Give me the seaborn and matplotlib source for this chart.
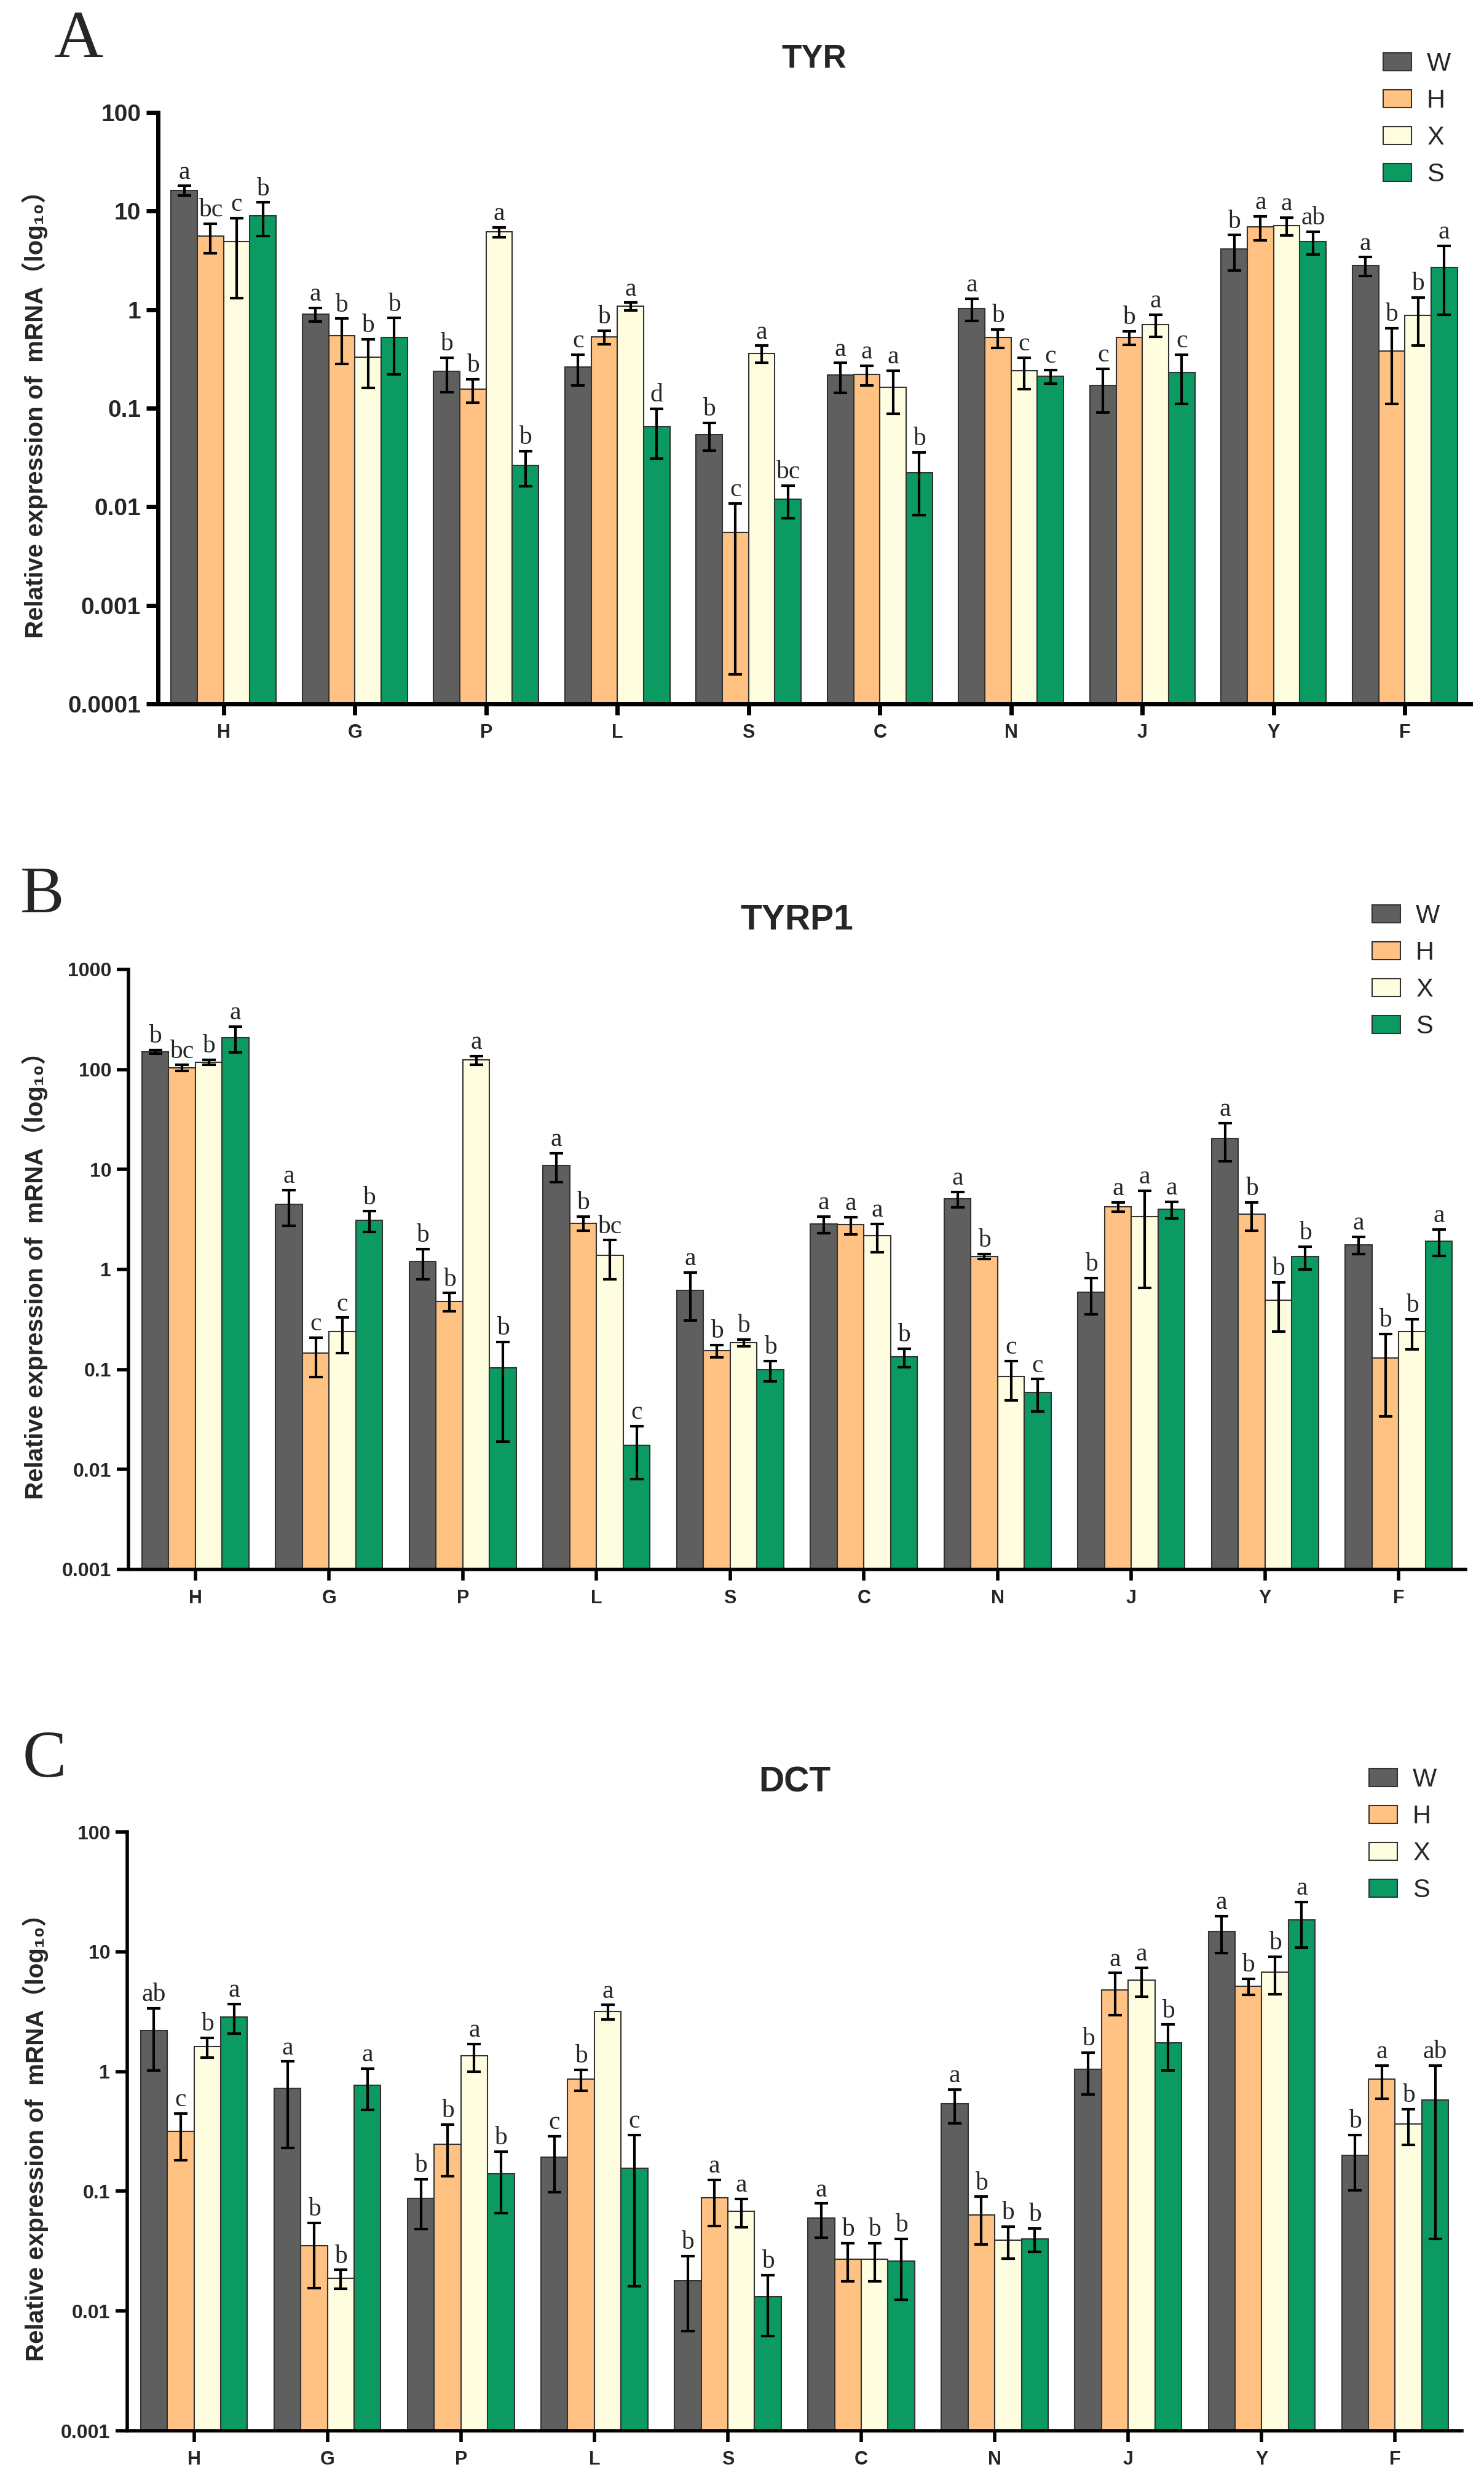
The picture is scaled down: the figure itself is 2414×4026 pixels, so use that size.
import numpy as np
import pandas as pd
import matplotlib
matplotlib.use("Agg")
import matplotlib.pyplot as plt
import seaborn as sns
from matplotlib.ticker import NullLocator

# ---------------------------- DATA ----------------------------
tissues = ["H", "G", "P", "L", "S", "C", "N", "J", "Y", "F"]
groups = ["W", "H", "X", "S"]
colors = ["#5f5f5f", "#ffc282", "#fffde0", "#0b9a61"]

# TYR  (mean, sd, significance letters)
tyr_W = [16.2, 0.90, 0.236, 0.26, 0.054, 0.216, 1.03, 0.17, 4.1, 2.8]
tyr_W_sd = [1.8, 0.145, 0.09, 0.09, 0.017, 0.072, 0.26, 0.08, 1.6, 0.6]
tyr_H = [5.6, 0.545, 0.155, 0.53, 0.0055, 0.22, 0.52, 0.52, 6.95, 0.38]
tyr_H_sd = [1.85, 0.265, 0.042, 0.085, 0.0053, 0.05, 0.11, 0.08, 1.9, 0.27]
tyr_X = [4.9, 0.33, 6.15, 1.08, 0.36, 0.164, 0.24, 0.71, 7.1, 0.88]
tyr_X_sd = [3.6, 0.17, 0.7, 0.095, 0.07, 0.076, 0.085, 0.18, 1.45, 0.45]
tyr_S = [8.9, 0.52, 0.0264, 0.065, 0.012, 0.022, 0.21, 0.23, 4.9, 2.67]
tyr_S_sd = [3.3, 0.3, 0.0102, 0.034, 0.0044, 0.0138, 0.033, 0.12, 1.3, 1.78]
tyr_let_W = ["a", "a", "b", "c", "b", "a", "a", "c", "b", "a"]
tyr_let_H = ["bc", "b", "b", "b", "c", "a", "b", "b", "a", "b"]
tyr_let_X = ["c", "b", "a", "a", "a", "a", "c", "a", "a", "b"]
tyr_let_S = ["b", "b", "b", "d", "bc", "b", "c", "c", "ab", "a"]

# TYRP1
tyrp1_W = [150, 4.5, 1.2, 11, 0.62, 2.84, 5.06, 0.59, 20.5, 1.77]
tyrp1_W_sd = [6, 1.75, 0.4, 3.5, 0.31, 0.55, 0.9, 0.235, 8.5, 0.35]
tyrp1_H = [104, 0.146, 0.48, 2.9, 0.154, 2.8, 1.35, 4.25, 3.57, 0.13]
tyrp1_H_sd = [7, 0.062, 0.1, 0.47, 0.021, 0.55, 0.07, 0.45, 1.12, 0.096]
tyrp1_X = [118, 0.238, 124, 1.38, 0.185, 2.17, 0.085, 3.4, 0.49, 0.238]
tyrp1_X_sd = [6.5, 0.092, 12, 0.58, 0.015, 0.68, 0.036, 2.75, 0.25, 0.08]
tyrp1_S = [208, 3.1, 0.104, 0.0175, 0.099, 0.134, 0.059, 3.98, 1.35, 1.93]
tyrp1_S_sd = [61, 0.72, 0.085, 0.0095, 0.023, 0.028, 0.021, 0.75, 0.35, 0.57]
tyrp1_let_W = ["b", "a", "b", "a", "a", "a", "a", "b", "a", "a"]
tyrp1_let_H = ["bc", "c", "b", "b", "b", "a", "b", "a", "b", "b"]
tyrp1_let_X = ["b", "c", "a", "bc", "b", "a", "c", "a", "b", "b"]
tyrp1_let_S = ["a", "b", "b", "c", "b", "b", "c", "a", "b", "a"]

# DCT
dct_W = [2.19, 0.72, 0.087, 0.193, 0.0178, 0.060, 0.54, 1.04, 14.8, 0.199]
dct_W_sd = [1.17, 0.49, 0.039, 0.095, 0.011, 0.019, 0.17, 0.4, 5.0, 0.097]
dct_H = [0.315, 0.035, 0.248, 0.86, 0.088, 0.0272, 0.063, 4.8, 5.16, 0.86]
dct_H_sd = [0.133, 0.0195, 0.114, 0.17, 0.037, 0.0095, 0.027, 1.85, 0.8, 0.265]
dct_X = [1.61, 0.0187, 1.35, 3.16, 0.068, 0.0272, 0.039, 5.77, 6.75, 0.365]
dct_X_sd = [0.3, 0.0033, 0.35, 0.43, 0.018, 0.0095, 0.0115, 1.55, 2.35, 0.12]
dct_S = [2.86, 0.77, 0.14, 0.155, 0.0131, 0.0262, 0.040, 1.74, 18.5, 0.58]
dct_S_sd = [0.8, 0.29, 0.074, 0.139, 0.0069, 0.0138, 0.0088, 0.72, 7.6, 0.54]
dct_let_W = ["ab", "a", "b", "c", "b", "a", "a", "b", "a", "b"]
dct_let_H = ["c", "b", "b", "b", "a", "b", "b", "a", "b", "a"]
dct_let_X = ["b", "b", "a", "a", "a", "b", "b", "a", "b", "b"]
dct_let_S = ["a", "a", "b", "c", "b", "b", "b", "b", "a", "ab"]

# --------------------------- STYLE ----------------------------
sns.set_theme(style="ticks")
plt.rcParams["font.family"] = ["Liberation Sans", "DejaVu Sans", "Noto Sans CJK SC"]
serif = ["Liberation Serif", "DejaVu Serif"]

W, H = 2414, 4026
fig = plt.figure(figsize=(W / 100, H / 100), dpi=100)


def box(left, top, right, bottom):
    return [left / W, 1 - bottom / H, (right - left) / W, (bottom - top) / H]


def draw_panel(ax, title, means, sds, letters, ylim, ticklabels, tick_fs, lw,
               title_y, title_fs, label_x, leg_xy):
    rows = []
    for g, m in zip(groups, means):
        for t, v in zip(tissues, m):
            rows.append({"tissue": t, "group": g, "value": v})
    df = pd.DataFrame(rows)

    sns.barplot(data=df, x="tissue", y="value", hue="group", order=tissues,
                hue_order=groups, palette=colors, errorbar=None, width=0.8,
                edgecolor="#333333", linewidth=1.5, saturation=1, ax=ax,
                legend=False)
    bars = list(ax.containers)
    ax.set_yscale("log")

    for cont, m, s, lab in zip(bars, means, sds, letters):
        xs = [p.get_x() + p.get_width() / 2 for p in cont.patches]
        ax.errorbar(xs, m, yerr=s, fmt="none", ecolor="black", elinewidth=3,
                    capsize=8, capthick=3, zorder=5)
        for x, v, e, l in zip(xs, m, s, lab):
            ax.annotate(l, (x, v + e), xytext=(0, 2), textcoords="offset points",
                        ha="center", va="bottom", fontsize=30, family=serif)

    ax.set_ylim(*ylim)
    ticks = [float(t) for t in ticklabels]
    ax.set_yticks(ticks)
    ax.set_yticklabels(ticklabels)
    ax.yaxis.set_minor_locator(NullLocator())
    ax.set_xlim(-0.5, len(tissues) - 0.5)
    ax.set_xlabel("")
    ax.set_ylabel("Relative expression of  mRNA（log₁₀）", fontsize=29,
                  fontweight="bold")
    ax.yaxis.set_label_coords(label_x, 0.5)

    sns.despine(ax=ax)
    for sp in ["left", "bottom"]:
        ax.spines[sp].set_linewidth(lw)
        ax.spines[sp].set_color("black")
    ax.tick_params(axis="both", direction="out", color="black", width=lw)
    ax.tick_params(axis="y", length=14, pad=6, labelsize=tick_fs)
    ax.tick_params(axis="x", length=13, pad=10, labelsize=22, bottom=True)
    for lab in ax.get_xticklabels() + ax.get_yticklabels():
        lab.set_fontweight("bold")

    ax.text(0.5, 1 + title_y, title, transform=ax.transAxes, ha="center",
            va="center", fontsize=title_fs, fontweight="bold")

    handles = [c.patches[0] for c in bars]
    ax.legend(handles, groups, loc="upper left", bbox_to_anchor=leg_xy,
              bbox_transform=fig.transFigure, frameon=False, fontsize=30,
              handlelength=1.1, handleheight=0.72, handletextpad=0.6,
              labelspacing=0.48, borderpad=0, borderaxespad=0)


ax1 = fig.add_axes(box(257, 183, 2392, 1145))
draw_panel(ax1, "TYR", [tyr_W, tyr_H, tyr_X, tyr_S],
           [tyr_W_sd, tyr_H_sd, tyr_X_sd, tyr_S_sd],
           [tyr_let_W, tyr_let_H, tyr_let_X, tyr_let_S],
           (1e-4, 100), ["0.0001", "0.001", "0.01", "0.1", "1", "10", "100"],
           28, 5, 0.0904, 38, -0.084, (2250 / W, 1 - 84 / H))

ax2 = fig.add_axes(box(209, 1577, 2384, 2553))
draw_panel(ax2, "TYRP1", [tyrp1_W, tyrp1_H, tyrp1_X, tyrp1_S],
           [tyrp1_W_sd, tyrp1_H_sd, tyrp1_X_sd, tyrp1_S_sd],
           [tyrp1_let_W, tyrp1_let_H, tyrp1_let_X, tyrp1_let_S],
           (1e-3, 1000), ["0.001", "0.01", "0.1", "1", "10", "100", "1000"],
           23, 4, 0.0815, 41, -0.060, (2232 / W, 1 - 1470 / H))

ax3 = fig.add_axes(box(207, 2980, 2378, 3954))
draw_panel(ax3, "DCT", [dct_W, dct_H, dct_X, dct_S],
           [dct_W_sd, dct_H_sd, dct_X_sd, dct_S_sd],
           [dct_let_W, dct_let_H, dct_let_X, dct_let_S],
           (1e-3, 100), ["0.001", "0.01", "0.1", "1", "10", "100"],
           23, 4, 0.0826, 41, -0.059, (2227 / W, 1 - 2875 / H))

# panel letters
fig.text(88 / W, 1 - 93 / H, "A", family=serif, fontsize=80, va="baseline")
fig.text(33 / W, 1 - 1484 / H, "B", family=serif, fontsize=77, va="baseline")
fig.text(37 / W, 1 - 2890 / H, "C", family=serif, fontsize=77, va="baseline")

fig.savefig("out.png", dpi=100, facecolor="white")
